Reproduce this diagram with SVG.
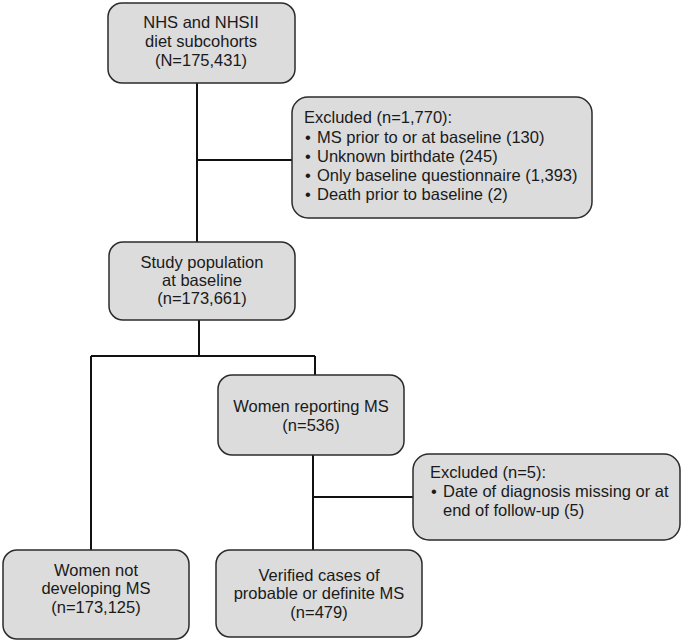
<svg xmlns="http://www.w3.org/2000/svg" width="682" height="643" viewBox="0 0 682 643">
<style>
.box{fill:#dcdcdc;stroke:#2b2b2b;stroke-width:1.5}
.t{font-family:"Liberation Sans",Arial,sans-serif;font-size:16.5px;fill:#1a1a1a}
.c{text-anchor:middle}
.ln{stroke:#111;stroke-width:2;fill:none}
</style>
<rect width="682" height="643" fill="#fff"/>
<g id="connectors">
<path class="ln" d="M197 83V160H292"/>
<path class="ln" d="M197 160V242"/>
<path class="ln" d="M199 320V356M91 356H315M91 356V550M315 356V375"/>
<path class="ln" d="M313 455V550M313 497H413"/>
</g>
<g id="n1">
<rect class="box" x="108" y="3" width="187" height="80" rx="14"/>
<text class="t c" x="201" y="28">NHS and NHSII</text>
<text class="t c" x="201" y="47">diet subcohorts</text>
<text class="t c" x="201" y="66">(N=175,431)</text>
</g>
<g id="ex1">
<rect class="box" x="292" y="97" width="300" height="121" rx="16"/>
<text class="t" x="304" y="123">Excluded (n=1,770):</text>
<text class="t" x="305" y="143">•</text><text class="t" x="317" y="143">MS prior to or at baseline (130)</text>
<text class="t" x="305" y="162">•</text><text class="t" x="317" y="162">Unknown birthdate (245)</text>
<text class="t" x="305" y="181">•</text><text class="t" x="317" y="181">Only baseline questionnaire (1,393)</text>
<text class="t" x="305" y="200">•</text><text class="t" x="317" y="200">Death prior to baseline (2)</text>
</g>
<g id="n2">
<rect class="box" x="109" y="242" width="186" height="78" rx="14"/>
<text class="t c" x="202" y="268">Study population</text>
<text class="t c" x="202" y="286">at baseline</text>
<text class="t c" x="202" y="304">(n=173,661)</text>
</g>
<g id="n3">
<rect class="box" x="218" y="375" width="186" height="80" rx="14"/>
<text class="t c" x="311" y="412">Women reporting MS</text>
<text class="t c" x="311" y="431">(n=536)</text>
</g>
<g id="ex2">
<rect class="box" x="413" y="454" width="267" height="86" rx="16"/>
<text class="t" x="430" y="478">Excluded (n=5):</text>
<text class="t" x="431" y="497">•</text><text class="t" x="443" y="497">Date of diagnosis missing or at</text>
<text class="t" x="443" y="516">end of follow-up (5)</text>
</g>
<g id="n4">
<rect class="box" x="3" y="550" width="186" height="89" rx="14"/>
<text class="t c" x="96" y="576">Women not</text>
<text class="t c" x="96" y="594">developing MS</text>
<text class="t c" x="96" y="613">(n=173,125)</text>
</g>
<g id="n5">
<rect class="box" x="216" y="550" width="206" height="87" rx="14"/>
<text class="t c" x="319" y="581">Verified cases of</text>
<text class="t c" x="319" y="599">probable or definite MS</text>
<text class="t c" x="319" y="618">(n=479)</text>
</g>
</svg>
